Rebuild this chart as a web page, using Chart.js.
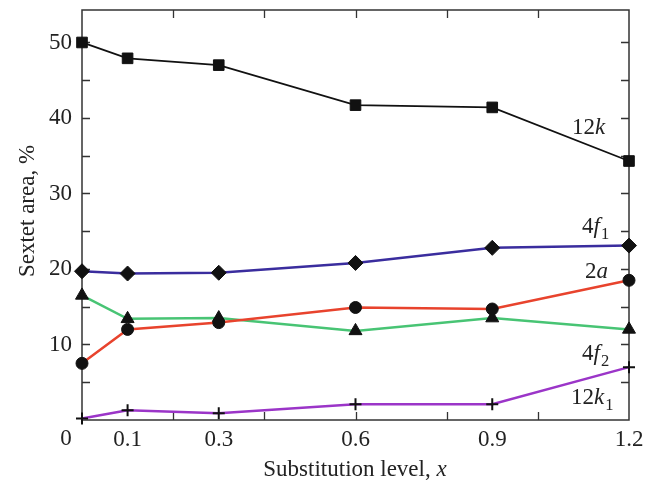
<!DOCTYPE html>
<html>
<head>
<meta charset="utf-8">
<script src="https://cdn.jsdelivr.net/npm/chart.js@4/dist/chart.umd.min.js"></script>
<style>
  html, body { margin: 0; padding: 0; background: #fff; }
  #wrap { width: 652px; height: 487px; }
</style>
</head>
<body>
<div id="wrap"><canvas id="chart" width="652" height="487"></canvas></div>
<script>
const xLevels = [0, 0.1, 0.3, 0.6, 0.9, 1.2];
const xTickLabels = [0.1, 0.3, 0.6, 0.9, 1.2];
const yTickLabels = [10, 20, 30, 40, 50];

const area12k  = [50.0, 47.9, 47.0, 41.7, 41.4, 34.3];
const area4f1  = [19.7, 19.4, 19.5, 20.8, 22.8, 23.1];
const area2a   = [7.5, 12.0, 12.9, 14.9, 14.7, 18.5];
const area4f2  = [16.5, 13.4, 13.5, 11.8, 13.5, 12.0];
const area12k1 = [0.2, 1.3, 0.9, 2.1, 2.1, 7.0];

const SERIF = '"Liberation Serif", "DejaVu Serif", serif';
const INK = "#222";
const FS = 23;

function pts(vals) {
  return xLevels.map((x, i) => ({ x: x, y: vals[i] }));
}

function series(vals, color, style, radius, width) {
  return {
    data: pts(vals),
    borderColor: color,
    borderWidth: width,
    pointStyle: style,
    pointRadius: radius,
    pointBackgroundColor: "#111",
    pointBorderColor: "#111",
    pointBorderWidth: style === "cross" ? 2 : 1,
    tension: 0,
    clip: false
  };
}

// text with italic letters and subscripts
function drawRich(ctx, parts, x, y, size) {
  let cx = x;
  parts.forEach(p => {
    const fs = p.sub ? size * 0.72 : size;
    ctx.font = (p.i ? "italic " : "") + fs + "px " + SERIF;
    ctx.fillText(p.t, cx, p.sub ? y + size * 0.25 : y);
    cx += ctx.measureText(p.t).width + (p.i ? 1 : 0);
  });
  return cx - x;
}

const frame = {
  id: "frame",
  beforeDatasetsDraw(chart) {
    const { ctx, chartArea: a, scales } = chart;
    ctx.save();
    ctx.strokeStyle = "#333";
    ctx.lineWidth = 1.5;
    ctx.strokeRect(a.left, a.top, a.right - a.left, a.bottom - a.top);
    ctx.lineWidth = 1.3;
    ctx.beginPath();
    for (let v = 0.2; v < 1.19; v += 0.2) {
      const px = Math.round(scales.x.getPixelForValue(v)) + 0.5;
      ctx.moveTo(px, a.bottom); ctx.lineTo(px, a.bottom - 8);
      ctx.moveTo(px, a.top); ctx.lineTo(px, a.top + 8);
    }
    for (let v = 5; v <= 50; v += 5) {
      const py = Math.round(scales.y.getPixelForValue(v)) + 0.5;
      ctx.moveTo(a.left, py); ctx.lineTo(a.left + 8, py);
      ctx.moveTo(a.right, py); ctx.lineTo(a.right - 8, py);
    }
    ctx.stroke();
    ctx.restore();
  },
  afterDatasetsDraw(chart) {
    const { ctx } = chart;
    ctx.save();
    ctx.fillStyle = INK;
    ctx.textBaseline = "alphabetic";
    ctx.textAlign = "left";
    drawRich(ctx, [{ t: "12" }, { t: "k", i: true }], 572, 134, FS);
    drawRich(ctx, [{ t: "4" }, { t: "f", i: true }, { t: "1", sub: true }], 582, 233, FS);
    drawRich(ctx, [{ t: "2" }, { t: "a", i: true }], 585, 278, FS);
    drawRich(ctx, [{ t: "4" }, { t: "f", i: true }, { t: "2", sub: true }], 582, 360, FS);
    drawRich(ctx, [{ t: "12" }, { t: "k", i: true }, { t: "1", sub: true }], 571, 404, FS);

    // origin label
    ctx.font = FS + "px " + SERIF;
    ctx.textAlign = "center";
    ctx.fillText("0", 66, 445);

    // x title
    ctx.textAlign = "left";
    ctx.font = FS + "px " + SERIF;
    const t1 = "Substitution level, ";
    const w1 = ctx.measureText(t1).width;
    ctx.font = "italic " + FS + "px " + SERIF;
    const w2 = ctx.measureText("x").width;
    const x0 = 355 - (w1 + w2) / 2;
    ctx.font = FS + "px " + SERIF;
    ctx.fillText(t1, x0, 476);
    ctx.font = "italic " + FS + "px " + SERIF;
    ctx.fillText("x", x0 + w1, 476);

    // y title
    ctx.translate(34, 211);
    ctx.rotate(-Math.PI / 2);
    ctx.textAlign = "center";
    ctx.font = FS + "px " + SERIF;
    ctx.fillText("Sextet area, %", 0, 0);
    ctx.restore();
  }
};

new Chart(document.getElementById("chart"), {
  type: "line",
  data: {
    datasets: [
      series(area12k, "#111", "rect", 7.5, 1.8),
      series(area4f1, "#3a2d9e", "rectRot", 7.5, 2.5),
      series(area2a, "#e8432d", "circle", 6, 2.5),
      series(area4f2, "#48c474", "triangle", 7.5, 2.5),
      series(area12k1, "#9b35c8", "cross", 6, 2.5)
    ]
  },
  options: {
    responsive: false,
    animation: false,
    layout: { padding: { top: 10, right: 23, left: 0, bottom: 0 } },
    plugins: { legend: { display: false }, tooltip: { enabled: false } },
    scales: {
      x: {
        type: "linear",
        min: 0,
        max: 1.2,
        afterBuildTicks: s => { s.ticks = xTickLabels.map(v => ({ value: v })); },
        afterFit: s => { s.height = 67; s.paddingLeft = 0; s.paddingRight = 0; },
        grid: { display: false, drawTicks: false },
        border: { display: false },
        ticks: {
          color: INK,
          padding: 6,
          maxRotation: 0,
          autoSkip: false,
          font: { family: SERIF, size: FS },
          callback: v => String(v)
        }
      },
      y: {
        min: 0,
        max: 54.3,
        afterBuildTicks: s => { s.ticks = yTickLabels.map(v => ({ value: v })); },
        afterFit: s => { s.width = 82; s.paddingTop = 0; s.paddingBottom = 0; },
        grid: { display: false, drawTicks: false },
        border: { display: false },
        ticks: {
          color: INK,
          padding: 10,
          font: { family: SERIF, size: FS },
          callback: v => String(v)
        }
      }
    }
  },
  plugins: [frame]
});
</script>
</body>
</html>
